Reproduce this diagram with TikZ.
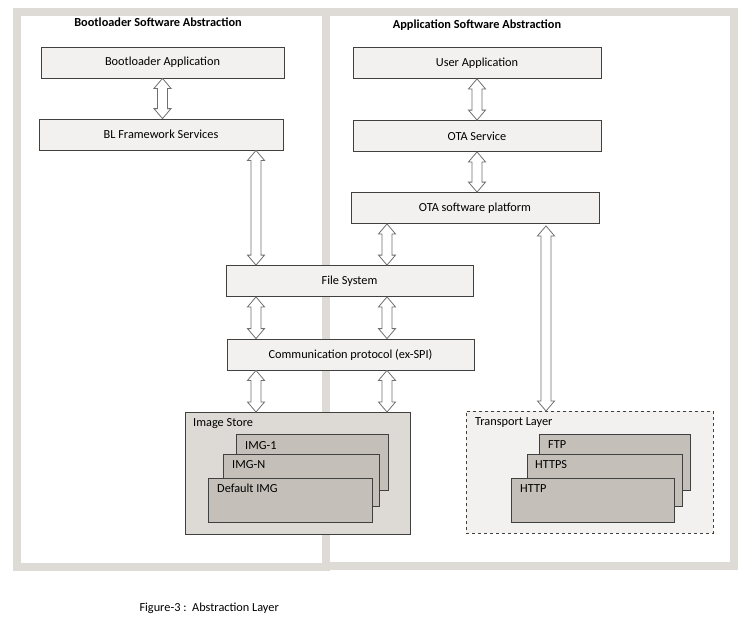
\documentclass[tikz,border=0pt]{standalone}
\usepackage{fontspec}
\setmainfont{Carlito}
\usepackage{tikz}
\usetikzlibrary{calc}
\definecolor{panelgray}{HTML}{DEDBD6}
\definecolor{boxfill}{HTML}{F2F1F0}
\definecolor{boxedge}{HTML}{404040}
\definecolor{storefill}{HTML}{DDDAD5}
\definecolor{imgfill}{HTML}{C4C0B9}
\definecolor{arrowedge}{HTML}{707070}
\tikzset{
  panel/.style={draw=panelgray, line width=8pt, fill=white, anchor=north west},
  layer/.style={draw=boxedge, fill=boxfill, line width=0.8pt, minimum height=31pt, font=\fontsize{12.3}{14}\selectfont},
  title/.style={font=\fontsize{12.3}{14}\selectfont\bfseries},
  store/.style={draw=boxedge, fill=storefill, line width=0.8pt, anchor=north west},
  transport/.style={draw=boxedge, fill=boxfill, line width=0.8pt, dashed, anchor=north west},
  imgbox/.style={draw=boxedge, fill=imgfill, line width=0.8pt, anchor=north west},
  boxlabel/.style={anchor=north west, inner sep=0pt, font=\fontsize{12.3}{14}\selectfont},
  dblarrow/.style={draw=arrowedge, fill=white, line width=0.8pt, line join=miter,
    to path={let \p1=(\tikztostart), \p2=(\tikztotarget) in
      (\x1,\y1) -- (\x1+8.5pt,\y1-10pt) -- (\x1+5pt,\y1-10pt) -- (\x1+5pt,\y2+10pt)
      -- (\x1+8.5pt,\y2+10pt) -- (\x1,\y2) -- (\x1-8.5pt,\y2+10pt) -- (\x1-5pt,\y2+10pt)
      -- (\x1-5pt,\y1-10pt) -- (\x1-8.5pt,\y1-10pt) -- cycle}},
}

\begin{document}
\begin{tikzpicture}[x=1pt,y=-1pt]
  \useasboundingbox (0,0) rectangle (743,622);

  % Panels
  \node[panel, minimum width=309pt, minimum height=555pt] (lpanel) at (13,8) {};
  \node[panel, minimum width=408pt, minimum height=554pt] (rpanel) at (322,8) {};
  \node[title] (ltitle) at (158,22) {Bootloader Software Abstraction};
  \node[title] (rtitle) at (477,25) {Application Software Abstraction};

  % Bootloader side
  \node[layer, minimum width=243pt] (blapp) at (162.5,62.5) {Bootloader Application};
  \node[layer, minimum width=244pt] (blfw)  at (161,134.5) {BL Framework Services};

  % Application side
  \node[layer, minimum width=248pt] (usrapp) at (477,63) {User Application};
  \node[layer, minimum width=248pt] (otasrv) at (477,136) {OTA Service};
  \node[layer, minimum width=248pt] (otaplat) at (475,208) {OTA software platform};

  % Shared layers
  \node[layer, minimum width=247pt] (fs)  at (349.5,281) {File System};
  \node[layer, minimum width=247pt] (com) at (350.5,354.5) {Communication protocol (ex-SPI)};

  % Image store
  \node[store, minimum width=225pt, minimum height=122pt] (store) at (185,412) {};
  \node[boxlabel] at (193,418) {Image Store};
  \node[imgbox, minimum width=152pt, minimum height=56pt] (img1) at (236,434) {};
  \node[boxlabel] at (245,441) {IMG-1};
  \node[imgbox, minimum width=156pt, minimum height=52pt] (imgn) at (223,454) {};
  \node[boxlabel] at (232,460) {IMG-N};
  \node[imgbox, minimum width=164pt, minimum height=44pt] (dimg) at (208,478) {};
  \node[boxlabel] at (217,484) {Default IMG};

  % Transport layer
  \node[transport, minimum width=247pt, minimum height=122pt] (trans) at (466,411) {};
  \node[boxlabel] at (475,417) {Transport Layer};
  \node[imgbox, minimum width=151pt, minimum height=56pt] (ftp) at (539,434) {};
  \node[boxlabel] at (548,440) {FTP};
  \node[imgbox, minimum width=155pt, minimum height=52pt] (https) at (527,454) {};
  \node[boxlabel] at (535,460) {HTTPS};
  \node[imgbox, minimum width=163pt, minimum height=44pt] (http) at (511,478) {};
  \node[boxlabel] at (520,484) {HTTP};

  % Arrow columns
  \coordinate (colA) at (256,0);
  \coordinate (colB) at (387,0);
  \coordinate (colC) at (546,0);

  % Arrows
  \draw[dblarrow] (blapp.south) to (blfw.north);
  \draw[dblarrow] (usrapp.south) to (otasrv.north);
  \draw[dblarrow] (otasrv.south) to (otaplat.north);
  \draw[dblarrow] (colA |- blfw.south) to (colA |- fs.north);
  \draw[dblarrow] (colB |- otaplat.south) to (colB |- fs.north);
  \draw[dblarrow] ([yshift=-2pt]colC |- otaplat.south) to (colC |- trans.north);
  \draw[dblarrow] (colA |- fs.south) to (colA |- com.north);
  \draw[dblarrow] (colB |- fs.south) to (colB |- com.north);
  \draw[dblarrow] (colA |- com.south) to (colA |- store.north);
  \draw[dblarrow] (colB |- com.south) to (colB |- store.north);

  % Caption
  \node[anchor=west, font=\fontsize{12.3}{14}\selectfont] (caption) at (136,608) {Figure-3 :\ \ Abstraction Layer};
\end{tikzpicture}
\end{document}
